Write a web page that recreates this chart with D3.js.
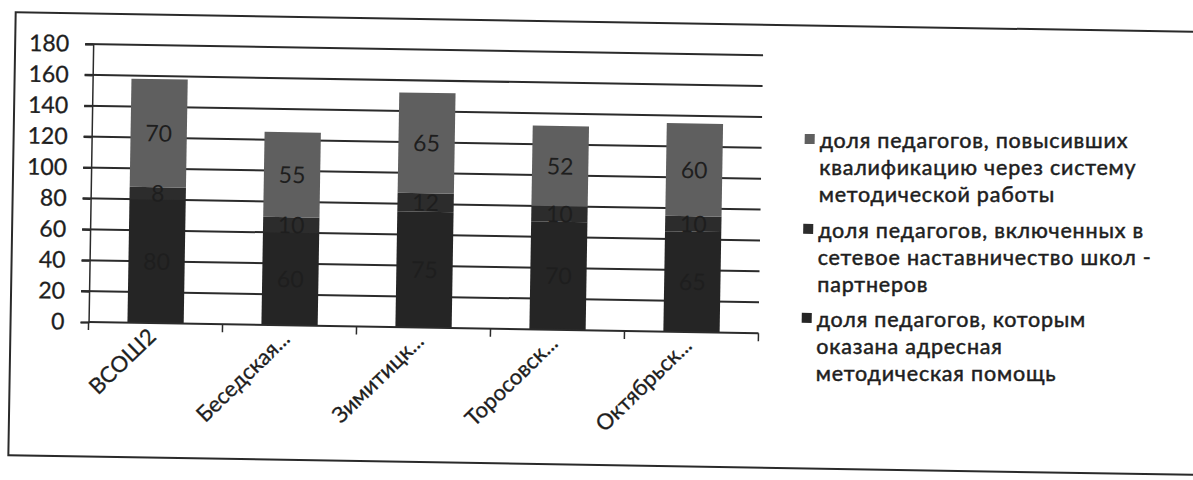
<!DOCTYPE html>
<html><head><meta charset="utf-8">
<script src="https://cdn.jsdelivr.net/npm/d3@7/dist/d3.min.js"></script>
<style>
html,body{margin:0;padding:0;background:#fff;}
svg{display:block;}
text{font-family:Lato,"Open Sans",sans-serif;fill:#1e1e1e;}
</style></head>
<body>
<script>
const categories = ["ВСОШ2", "Беседская...", "Зимитицк...", "Торосовск...", "Октябрьск..."];
const seriesNames = [
  "доля педагогов, которым оказана адресная методическая помощь",
  "доля педагогов, включенных в сетевое наставничество школ - партнеров",
  "доля педагогов, повысивших квалификацию через систему методической работы"
];
const addressHelp = [80, 60, 75, 70, 65];
const networkMentoring = [8, 10, 12, 10, 10];
const qualification = [70, 55, 65, 52, 60];
const yTicks = [0, 20, 40, 60, 80, 100, 120, 140, 160, 180];
const legendLines = [
  ["доля педагогов, повысивших", "квалификацию через систему", "методической работы"],
  ["доля педагогов, включенных в", "сетевое наставничество школ -", "партнеров"],
  ["доля педагогов, которым", "оказана адресная", "методическая помощь"]
];
const colors = ["#252525", "#2c2c2c", "#5f5f5f"];

const W = 1193, H = 480;
const tilt = 0.95;
const svg = d3.select("body").append("svg").attr("width", W).attr("height", H);
const root = svg.append("g").attr("transform", `rotate(${tilt},600,240)`);

// frame
root.append("rect").attr("x", 12).attr("y", 22).attr("width", 1210).attr("height", 443)
  .attr("fill", "none").attr("stroke", "#2a2a2a").attr("stroke-width", 2);

const pLeft = 90, pRight = 760, pTop = 52.5, pBottom = 330.5;
const x = d3.scaleBand().domain(categories).range([pLeft, pRight]).paddingInner(0.58).paddingOuter(0.29);
const xb = d3.scaleBand().domain(categories).range([pLeft, pRight]);
const y = d3.scaleLinear().domain([0, 180]).range([pBottom, pTop]);

const data = categories.map((c, i) => ({cat: c, v: [addressHelp[i], networkMentoring[i], qualification[i]]}));
const stack = d3.stack().keys([0, 1, 2]).value((d, k) => d.v[k]);
const layers = stack(data);

// gridlines
root.append("g").selectAll("line").data(yTicks.filter(t => t > 0)).join("line")
  .attr("x1", pLeft - 8).attr("x2", pRight).attr("y1", d => y(d)).attr("y2", d => y(d))
  .attr("stroke", "#2b2b2b").attr("stroke-width", 2);

// y axis
const ya = root.append("g").attr("transform", `translate(${pLeft},0)`)
  .call(d3.axisLeft(y).tickValues(yTicks).tickSize(8).tickPadding(16));
ya.select(".domain").attr("stroke", "#2b2b2b").attr("stroke-width", 1.5);
ya.selectAll(".tick line").attr("stroke", "#2b2b2b").attr("stroke-width", 2);
ya.selectAll(".tick text").style("font-size", "23px").attr("fill", "#1e1e1e")
  .style("font-family", "Lato").attr("stroke", "#1e1e1e").attr("stroke-width", 0.3);

// bars
const gBars = root.append("g");
layers.forEach((layer, li) => {
  gBars.append("g").selectAll("rect").data(layer).join("rect")
    .attr("x", d => x(d.data.cat)).attr("width", x.bandwidth())
    .attr("y", d => y(d[1])).attr("height", d => y(d[0]) - y(d[1]))
    .attr("fill", colors[li]);
});

// x axis
const xa = root.append("g").attr("transform", `translate(0,${pBottom})`);
xa.append("line").attr("x1", pLeft).attr("x2", pRight).attr("y1", 0).attr("y2", 0)
  .attr("stroke", "#2b2b2b").attr("stroke-width", 2);
const bounds = categories.map(c => xb(c)).concat([pRight]);
xa.selectAll("line.tk").data(bounds).join("line").attr("class", "tk")
  .attr("x1", d => d).attr("x2", d => d).attr("y1", 0).attr("y2", 8)
  .attr("stroke", "#2b2b2b").attr("stroke-width", 1.5);
xa.selectAll("text").data(categories).join("text")
  .attr("transform", d => `translate(${xb(d) + xb.bandwidth() / 2 + 2},${15}) rotate(-45)`)
  .attr("text-anchor", "end").style("font-size", "22px")
  .attr("stroke", "#1e1e1e").attr("stroke-width", 0.3).text(d => d);

// data labels
layers.forEach((layer, li) => {
  gBars.append("g").selectAll("text").data(layer).join("text")
    .attr("x", d => x(d.data.cat) + x.bandwidth() / 2)
    .attr("y", d => (y(d[0]) + y(d[1])) / 2)
    .attr("dy", "0.36em").attr("text-anchor", "middle")
    .style("font-size", "23px").attr("fill", "#141414")
    .text(d => d[1] - d[0]);
});

// legend
const lg = root.append("g");
const legendTop = [136.5, 226.5, 315.5];
const legendColor = [colors[2], colors[1], colors[0]];
legendLines.forEach((lines, i) => {
  lg.append("rect").attr("x", 803).attr("y", legendTop[i] - 6).attr("width", 10).attr("height", 10)
    .attr("fill", legendColor[i]);
  lines.forEach((t, j) => {
    const ty = legendTop[i] + j * 27;
    lg.append("text").attr("x", 818).attr("y", ty).attr("dy", "0.35em")
      .attr("transform", `rotate(${-tilt},818,${ty})`)
      .style("font-size", "21.5px").style("letter-spacing", "0.8px")
      .attr("stroke", "#1e1e1e").attr("stroke-width", 0.5).text(t);
  });
});
</script>
</body></html>
